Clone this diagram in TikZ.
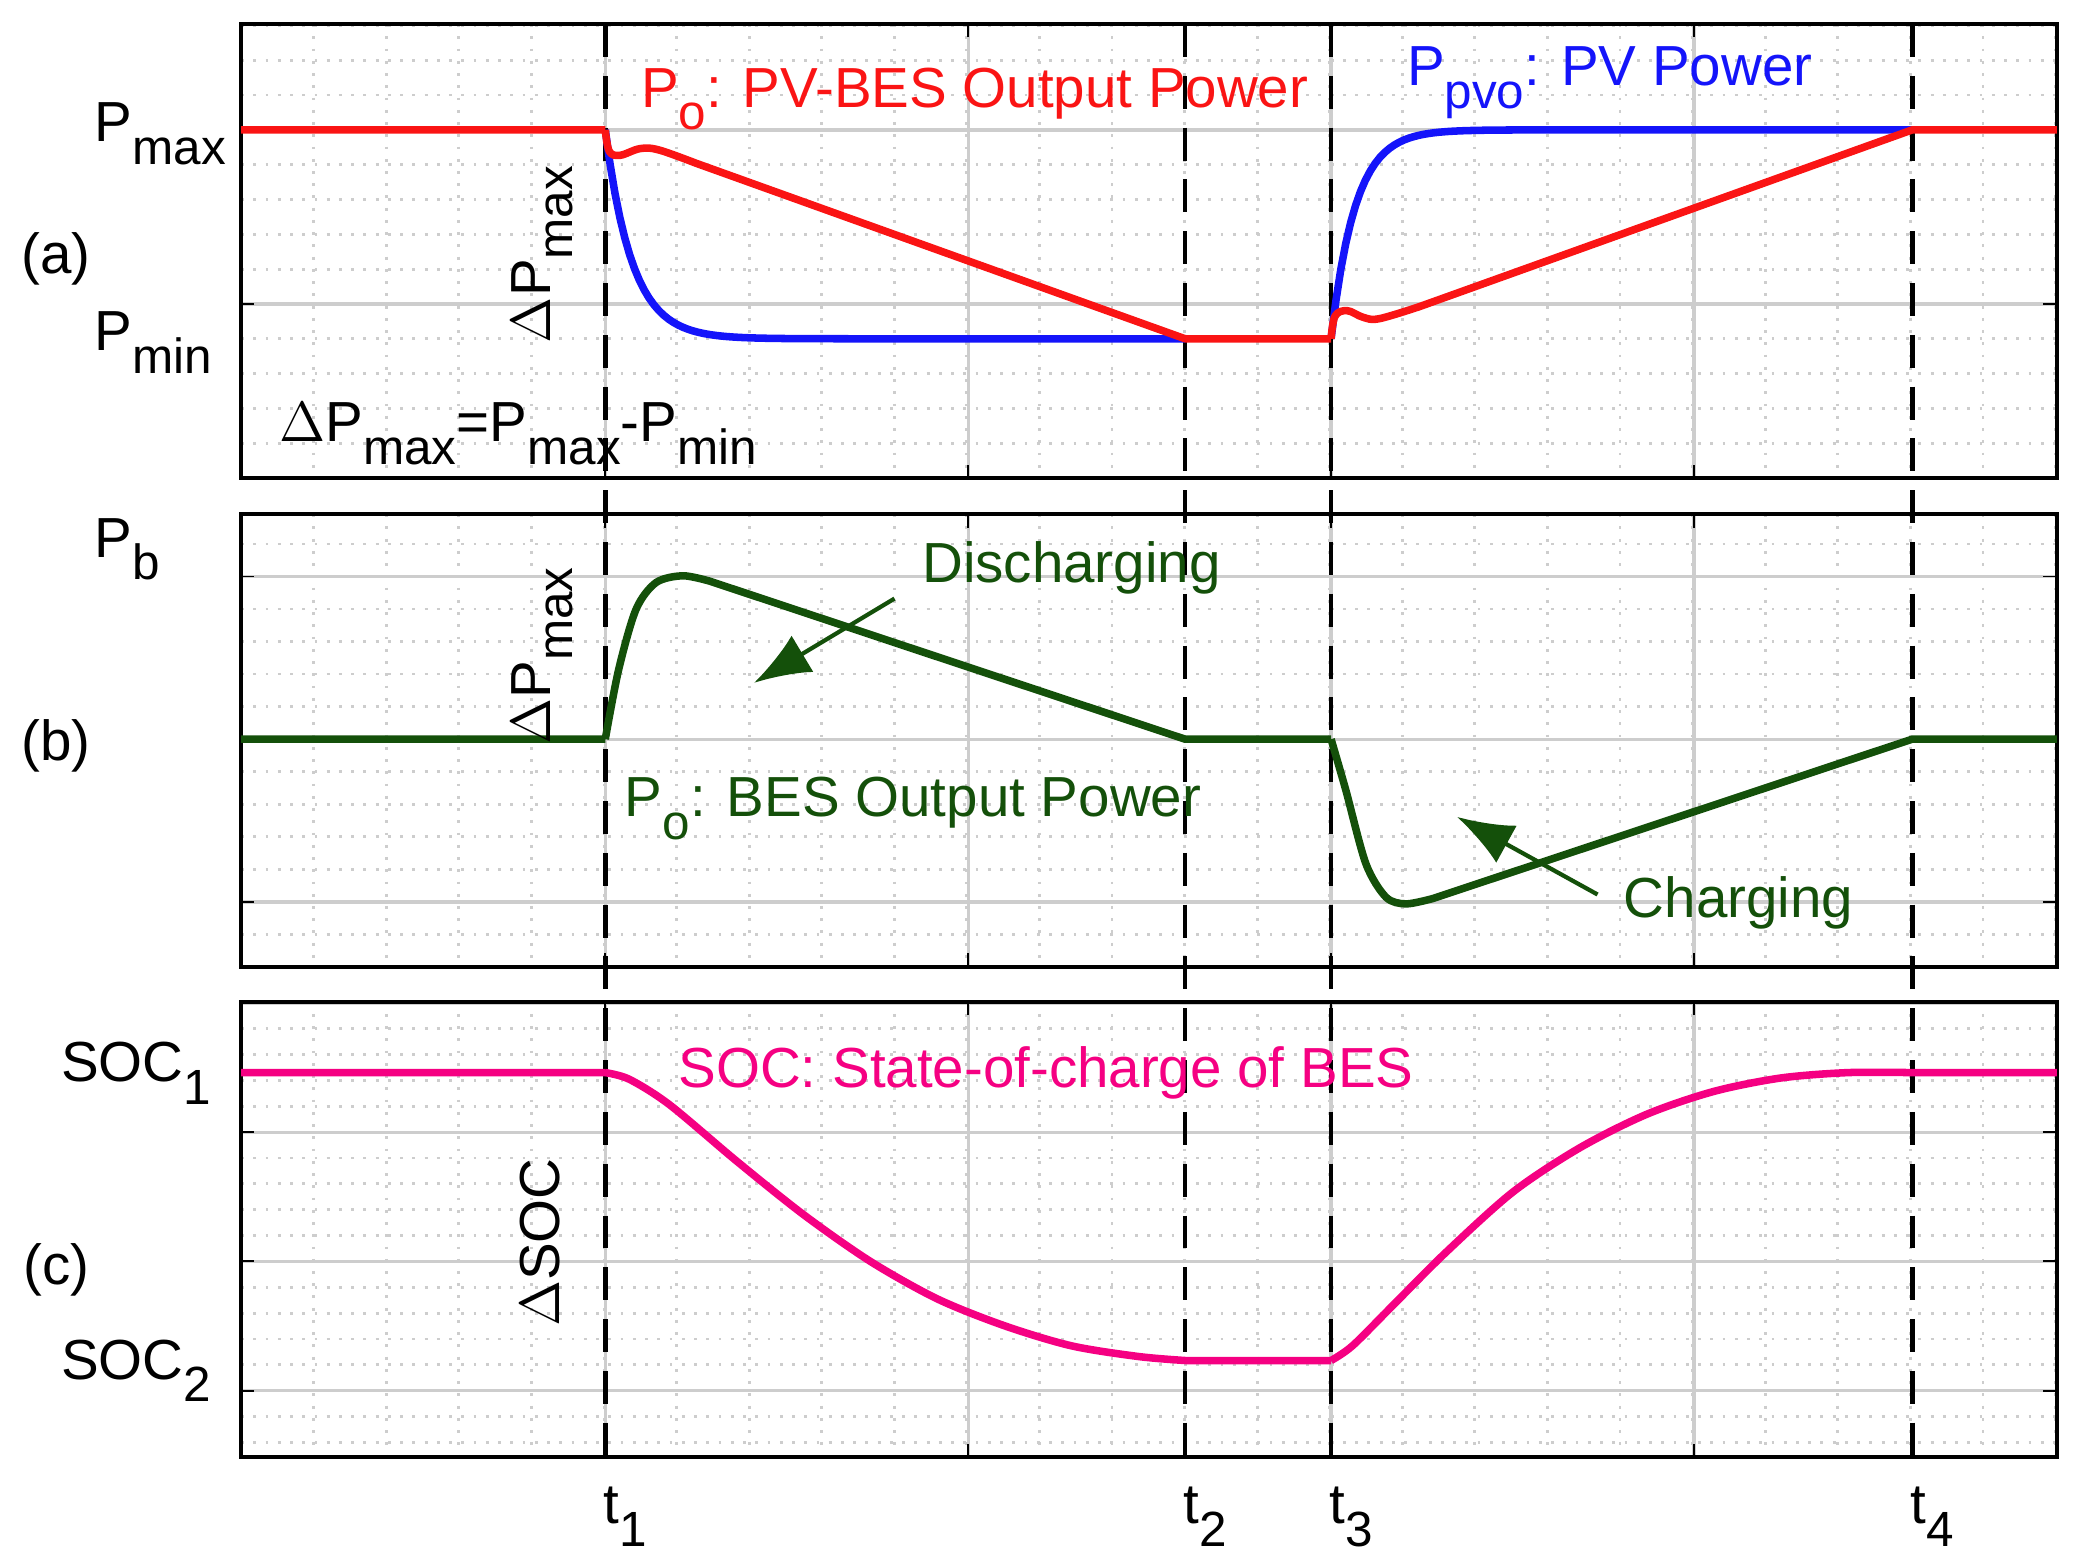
\documentclass[tikz,border=0pt]{standalone}
\usepackage{fontspec}
\usetikzlibrary{arrows.meta}
\setmainfont{Liberation Sans}
\definecolor{cred}{RGB}{250,20,20}
\definecolor{cblue}{RGB}{20,20,250}
\definecolor{cgreen}{RGB}{20,80,10}
\definecolor{cpink}{RGB}{245,0,130}
\definecolor{gridc}{RGB}{205,205,205}
\newcommand{\mysub}[1]{\raisebox{-0.75ex}{\fontsize{10.5}{12}\selectfont #1}}
\begin{document}
\begin{tikzpicture}[x=0.01cm,y=-0.01cm,
  lbl/.style={font=\fontsize{12}{14}\selectfont,inner sep=0pt},
  curve/.style={line width=1.6pt,line join=round},
  tline/.style={dashed,line width=1pt,dash pattern=on 7pt off 4pt},
  minorg/.style={gridc,dotted,line width=0.6pt},
  majorg/.style={gridc,line width=0.7pt}]
\useasboundingbox (0,0) rectangle (1560,1168);
% panels
\foreach \top/\bot/\maj/\step in {18/357/227/26, 384/722/552/24.3, 748/1088/942/19.3}{
  \begin{scope}
  \clip (180,\top) rectangle (1536,\bot);
  \foreach \k in {-14,...,14}{
    \pgfmathsetmacro\yy{\maj+\k*\step}
    \draw[minorg] (180,\yy) -- (1536,\yy);}
  \foreach \k in {0,...,25}{
    \pgfmathsetmacro\xx{180+\k*54.2}
    \draw[minorg] (\xx,\top) -- (\xx,\bot);}
  \foreach \k in {-2,...,2}{
    \pgfmathsetmacro\yy{\maj+5*\k*\step}
    \draw[majorg] (180,\yy) -- (1536,\yy);
    \draw (180,\yy) -- (190,\yy) (1526,\yy) -- (1536,\yy);}
  \foreach \xx in {452,723,994,1265}{
    \draw[majorg] (\xx,\top) -- (\xx,\bot);
    \draw (\xx,\top) -- (\xx,\top+10) (\xx,\bot) -- (\xx,\bot-10);}
  \end{scope}
  \draw[line width=0.8pt] (180,\top) rectangle (1536,\bot);
}
% t lines
\foreach \xx in {452,885,994,1428}{\draw[tline] (\xx,18) -- (\xx,1090);}
% panel a
\draw[curve,cblue] plot[domain=452:885,samples=120] (\x,{253-156*exp(-(\x-452)/20)});
\draw[curve,cblue] plot[domain=994:1428,samples=120] (\x,{97+156*exp(-(\x-994)/18)});
\draw[curve,cred] (180,97) -- (452,97) plot[smooth,tension=0.6] coordinates {(452,97)(455,113)(463,116)(478,111)(492,112)(520,122)} -- (885,253) -- (994,253)
  plot[smooth,tension=0.6] coordinates {(994,253)(997,236)(1006,232)(1018,237)(1030,238)(1060,229)} -- (1428,97) -- (1536,97);
% panel b
\draw[curve,cgreen] (180,552) -- (452,552) plot[smooth] coordinates {(452,552)(462,500)(475,455)(490,435)(510,430)(530,434)} -- (885,552) -- (994,552)
  plot[smooth] coordinates {(994,552)(1005,590)(1020,645)(1035,670)(1050,675)(1070,671)} -- (1428,552) -- (1536,552);
% panel c
\draw[curve,cpink] (180,801) -- (452,801) plot[smooth] coordinates {(452,801)(470,806)(500,825)(550,867)(600,907)(650,942)(700,970)(750,990)(800,1005)(850,1013)(885,1016)} -- (994,1016)
  plot[smooth] coordinates {(994,1016)(1010,1005)(1040,975)(1080,935)(1130,890)(1180,857)(1230,832)(1280,815)(1330,805)(1380,801)(1428,801)} -- (1536,801);
% labels
\node[lbl,anchor=base west] (pmax) at (70,106) {P\mysub{max}};
\node[lbl,anchor=base west] (pmin) at (70,262) {P\mysub{min}};
\node[lbl] (la) at (42,193) {(a)};
\node[lbl,rotate=90] (dpa) at (405,190) {$\Delta$P\mysub{max}};
\node[lbl,anchor=base west] (dpdef) at (208,330) {$\Delta$P\mysub{max}=P\mysub{max}-P\mysub{min}};
\node[lbl,anchor=base west,text=cred] (po) at (478,80) {P\mysub{o}: PV-BES Output Power};
\node[lbl,anchor=base west,text=cblue] (ppvo) at (1050,64) {P\mysub{pvo}: PV Power};
\node[lbl,anchor=base west] (pb) at (70,416) {P\mysub{b}};
\node[lbl] (lb) at (42,557) {(b)};
\node[lbl,rotate=90] (dpb) at (405,490) {$\Delta$P\mysub{max}};
\node[lbl,anchor=base west,text=cgreen] (dis) at (688,435) {Discharging};
\node[lbl,anchor=base west,text=cgreen] (bes) at (466,610) {P\mysub{o}: BES Output Power};
\node[lbl,anchor=base west,text=cgreen] (chg) at (1212,685) {Charging};
\coordinate (dis0) at (668,447); \coordinate (dis1) at (563,510);
\coordinate (chg0) at (1193,668); \coordinate (chg1) at (1088,610);
\draw[cgreen,line width=0.9pt,-{Latex[length=12pt,width=9pt]}] (dis0) -- (dis1);
\draw[cgreen,line width=0.9pt,-{Latex[length=12pt,width=9pt]}] (chg0) -- (chg1);
\node[lbl,anchor=base west] (soc1) at (45,808) {SOC\mysub{1}};
\node[lbl,anchor=base west] (soc2) at (45,1030) {SOC\mysub{2}};
\node[lbl] (lc) at (42,948) {(c)};
\node[lbl,rotate=90] (dsoc) at (403,928) {$\Delta$SOC};
\node[lbl,anchor=base west,text=cpink] (soct) at (506,812) {SOC: State-of-charge of BES};
\foreach \xx/\n in {452/1,885/2,994/3,1428/4}{
  \node[lbl,anchor=base west] (t\n) at (\xx-2,1138) {t\mysub{\n}};}
\end{tikzpicture}
\end{document}
